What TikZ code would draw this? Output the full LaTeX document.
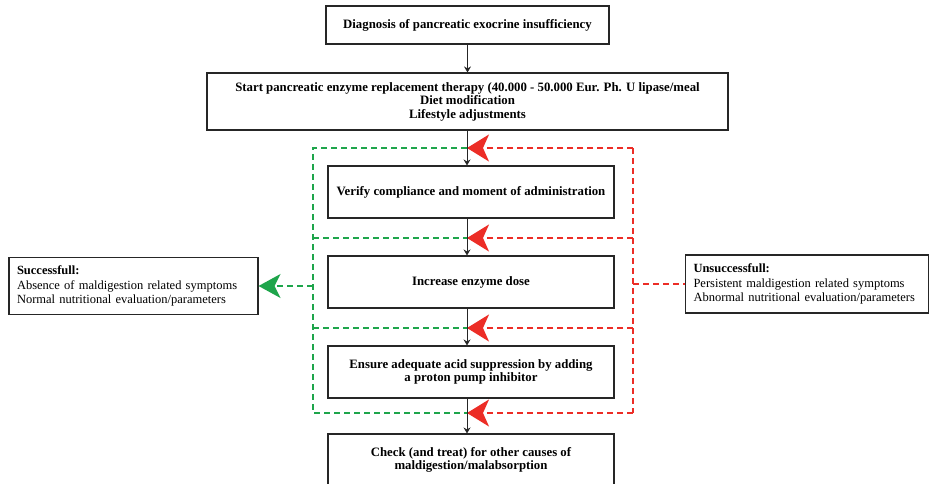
\documentclass[tikz,border=0pt]{standalone}
\usepackage{fontspec}
\setmainfont{Liberation Serif}
\usetikzlibrary{arrows.meta}
\definecolor{okgreen}{RGB}{30,165,75}
\definecolor{nored}{RGB}{236,45,38}

\begin{document}
\begin{tikzpicture}[x=1pt,y=-1pt,
    box/.style={rectangle,draw=black!85,line width=1.1pt,minimum width=286pt,minimum height=52pt,align=center,font=\fontsize{12.8}{13.5}\selectfont\bfseries},
    outcome/.style={rectangle,draw=black!85,line width=1.1pt,minimum height=57pt,align=left,inner xsep=8pt,font=\fontsize{12.5}{14.5}\selectfont},
    flow/.style={-{Stealth[length=6pt,width=7pt,inset=2pt]},line width=0.9pt,draw=black!85},
    yes/.style={draw=okgreen,line width=1.8pt,dash pattern=on 6pt off 4pt},
    no/.style={draw=nored,line width=1.8pt,dash pattern=on 6pt off 4pt},
    back/.style={-{Stealth[length=22pt,width=27pt,inset=6pt,fill=nored]}},
    done/.style={-{Stealth[length=22pt,width=24pt,inset=6pt,fill=okgreen]}},
]
\useasboundingbox (0,0) rectangle (929,484);
\clip (0,0) rectangle (929,484);

% main steps
\node[box,minimum width=283pt,minimum height=38pt] (diag) at (467.5,25) {Diagnosis of pancreatic exocrine insufficiency};
\node[box,minimum width=521pt,minimum height=57pt] (start) at (467.5,101.5) {Start pancreatic enzyme replacement therapy (40.000 - 50.000 Eur. Ph. U lipase/meal\\Diet modification\\Lifestyle adjustments};
\node[box] (verify) at (471,192) {Verify compliance and moment of administration};
\node[box] (dose) at (471,282) {Increase enzyme dose};
\node[box] (ppi) at (471,372) {Ensure adequate acid suppression by adding\\a proton pump inhibitor};
\node[box] (check) at (471,460) {Check (and treat) for other causes of\\maldigestion/malabsorption};

% outcomes
\node[outcome,text width=233pt] (success) at (133.5,286) {\textbf{Successfull:}\\Absence of maldigestion related symptoms\\Normal nutritional evaluation/parameters};
\node[outcome,text width=227pt,minimum height=58pt] (fail) at (807,284) {\textbf{Unsuccessfull:}\\Persistent maldigestion related symptoms\\Abnormal nutritional evaluation/parameters};

% junctions and loop corners
\coordinate (j1) at (467,148);
\coordinate (j2) at (467,238);
\coordinate (j3) at (467,328);
\coordinate (j4) at (467,413);
\coordinate (gtop) at (313,148);
\coordinate (gbot) at (313,413);
\coordinate (rtop) at (633,148);
\coordinate (rbot) at (633,413);

% successful loop
\draw[yes] (j1) -- (gtop) -- (gbot) -- (j4);
\draw[yes] (gtop |- j2) -- (j2);
\draw[yes] (gtop |- j3) -- (j3);
\draw[yes,done] (gtop |- success.east) -- (success.east);

% unsuccessful loop
\draw[no] (rtop) -- (rbot);
\foreach \j in {j1,j2,j3,j4}
    \draw[no,back] (rtop |- \j) -- (\j);
\draw[no] (rtop |- fail.west) -- (fail.west);

% flow
\draw[flow] (diag.south) -- (start.north);
\draw[flow] (start.south -| j1) -- (j1 |- verify.north);
\draw[flow] (verify.south -| j2) -- (j2 |- dose.north);
\draw[flow] (dose.south -| j3) -- (j3 |- ppi.north);
\draw[flow] (ppi.south -| j4) -- (j4 |- check.north);
\end{tikzpicture}
\end{document}
